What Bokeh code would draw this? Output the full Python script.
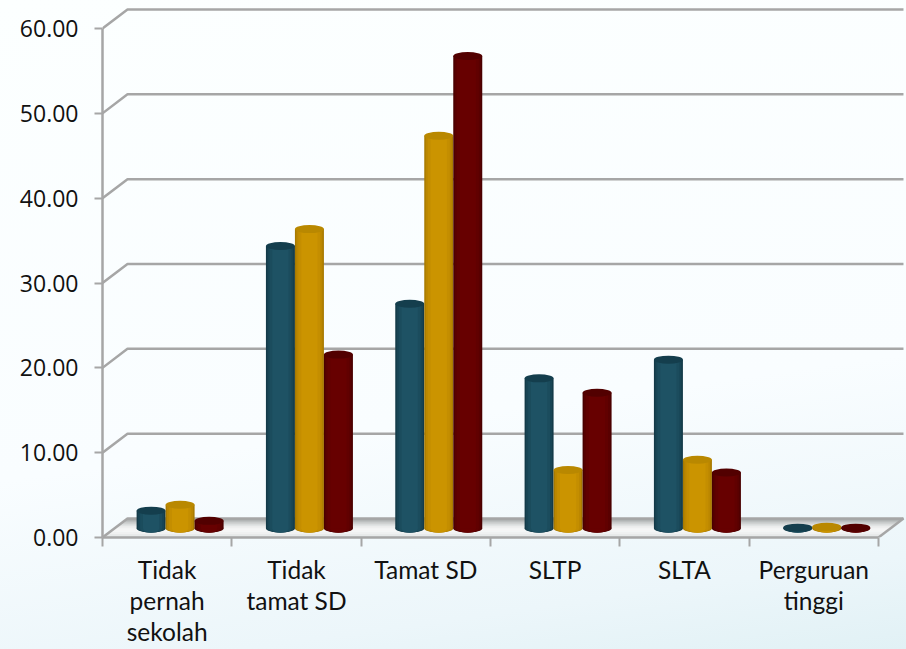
from bokeh.plotting import figure
from bokeh.embed import file_html
from bokeh.resources import INLINE
from bokeh.models import FixedTicker, Range1d, GlobalInlineStyleSheet, NumeralTickFormatter

categories = ["Tidak\npernah\nsekolah", "Tidak\ntamat SD", "Tamat SD", "SLTP", "SLTA", "Perguruan\ntinggi"]
series_teal = [2.1, 33.3, 26.5, 17.7, 19.9, 0.1]
series_gold = [2.8, 35.3, 46.3, 6.9, 8.1, 0.2]
series_red = [0.9, 20.5, 55.7, 16.0, 6.6, 0.1]
y_ticks = [0, 10, 20, 30, 40, 50, 60]

PX_X = 129.33
PX_Y = 8.483
W, H = 906, 649
L, B = 102, 112
DX = 25 / PX_X
DY = 19 / PX_Y
BASE = 1.06
BW = 29 / PX_X
GRID = "#a6a6a6"

p = figure(width=W, height=H, output_backend="svg", toolbar_location=None,
           x_range=Range1d(0, (W - L) / PX_X), y_range=Range1d(0, (H - B) / PX_Y),
           min_border_left=L, min_border_bottom=B, min_border_top=0, min_border_right=0)
p.stylesheets = [GlobalInlineStyleSheet(css="""
html,body{min-height:100%;background:linear-gradient(172deg,#fcffff 0%,#f9fdff 62%,#ecf6fa 88%,#e1f1f5 100%) no-repeat;background-attachment:fixed;}
""")]
p.background_fill_alpha = 0
p.border_fill_alpha = 0
p.outline_line_color = None
p.grid.visible = False

ya = p.yaxis[0]
ya.ticker = FixedTicker(ticks=y_ticks)
ya.formatter = NumeralTickFormatter(format="0.00")
ya.bounds = (0, 60)
ya.axis_line_color = GRID
ya.axis_line_width = 2.5
ya.major_tick_line_color = GRID
ya.major_tick_line_width = 2
ya.major_tick_in = 0
ya.major_tick_out = 8
ya.minor_tick_line_color = None
ya.major_label_standoff = 16
ya.major_label_text_font = "Open Sans"
ya.major_label_text_font_size = "23px"
ya.major_label_text_color = "#111111"

n = len(categories)
centers = [i + 0.5 for i in range(n)]
xa = p.xaxis[0]
xa.ticker = FixedTicker(ticks=centers, minor_ticks=list(range(n + 1)))
xa.major_label_overrides = {c: t for c, t in zip(centers, categories)}
xa.bounds = (0, n)
xa.axis_line_color = GRID
xa.axis_line_width = 2.5
xa.major_tick_line_color = None
xa.major_tick_in = 0
xa.major_tick_out = 0
xa.minor_tick_line_color = GRID
xa.minor_tick_line_width = 2
xa.minor_tick_in = 0
xa.minor_tick_out = 9
xa.major_label_standoff = 8
xa.major_label_text_font = "Lato"
xa.major_label_text_font_size = "24.5px"
xa.major_label_text_color = "#111111"
xa.major_label_text_line_height = 1.08
xa.major_label_orientation = "horizontal"

# floor, front to back
floor = ["#dfe2e2", "#e8eaea", "#f0f1f1", "#f5f6f6", "#f5f6f6", "#eeefef", "#e2e4e4", "#d0d3d3", "#bcbfbf", "#a6a9a9"]
for i, c in enumerate(floor):
    f0, f1 = i / len(floor), (i + 1) / len(floor)
    p.patch([f0 * DX, n + f0 * DX, n + f1 * DX, f1 * DX],
            [f0 * DY, f0 * DY, f1 * DY, f1 * DY], color=c, line_color=c, line_width=0.5)

# walls
for v in y_ticks:
    p.line([0, DX, n + DX], [v, v + DY, v + DY], line_color=GRID, line_width=2.5)
p.line([n, n + DX], [0, DY], line_color=GRID, line_width=2.5)

# cylinders: nested strips, widest and darkest first
FRACS = [1.0, 0.9, 0.76, 0.56]
SHADES = {
    "teal": ["#133a48", "#184555", "#1b4c5d", "#1e5264"],
    "gold": ["#a87a00", "#bb8700", "#c48e00", "#cb9400"],
    "red": ["#4a0000", "#590000", "#610000", "#670000"],
}
TOPS = {"teal": "#143e4d", "gold": "#b98800", "red": "#520000"}
EH = 8 / PX_Y
for j, (name, vals) in enumerate((("teal", series_teal), ("gold", series_gold), ("red", series_red))):
    for i, val in enumerate(vals):
        cx = i + 0.5 + 0.1 + (j - 1) * BW
        top = val + BASE
        for fr, c in zip(FRACS, SHADES[name]):
            p.ellipse(cx, BASE, width=BW * fr, height=EH, color=c, line_color=None)
            p.vbar(cx, width=BW * fr, bottom=BASE, top=top, color=c, line_color=None)
        p.ellipse(cx, top, width=BW, height=EH, color=TOPS[name], line_color=None)

open("out.html", "w").write(file_html(p, INLINE))
